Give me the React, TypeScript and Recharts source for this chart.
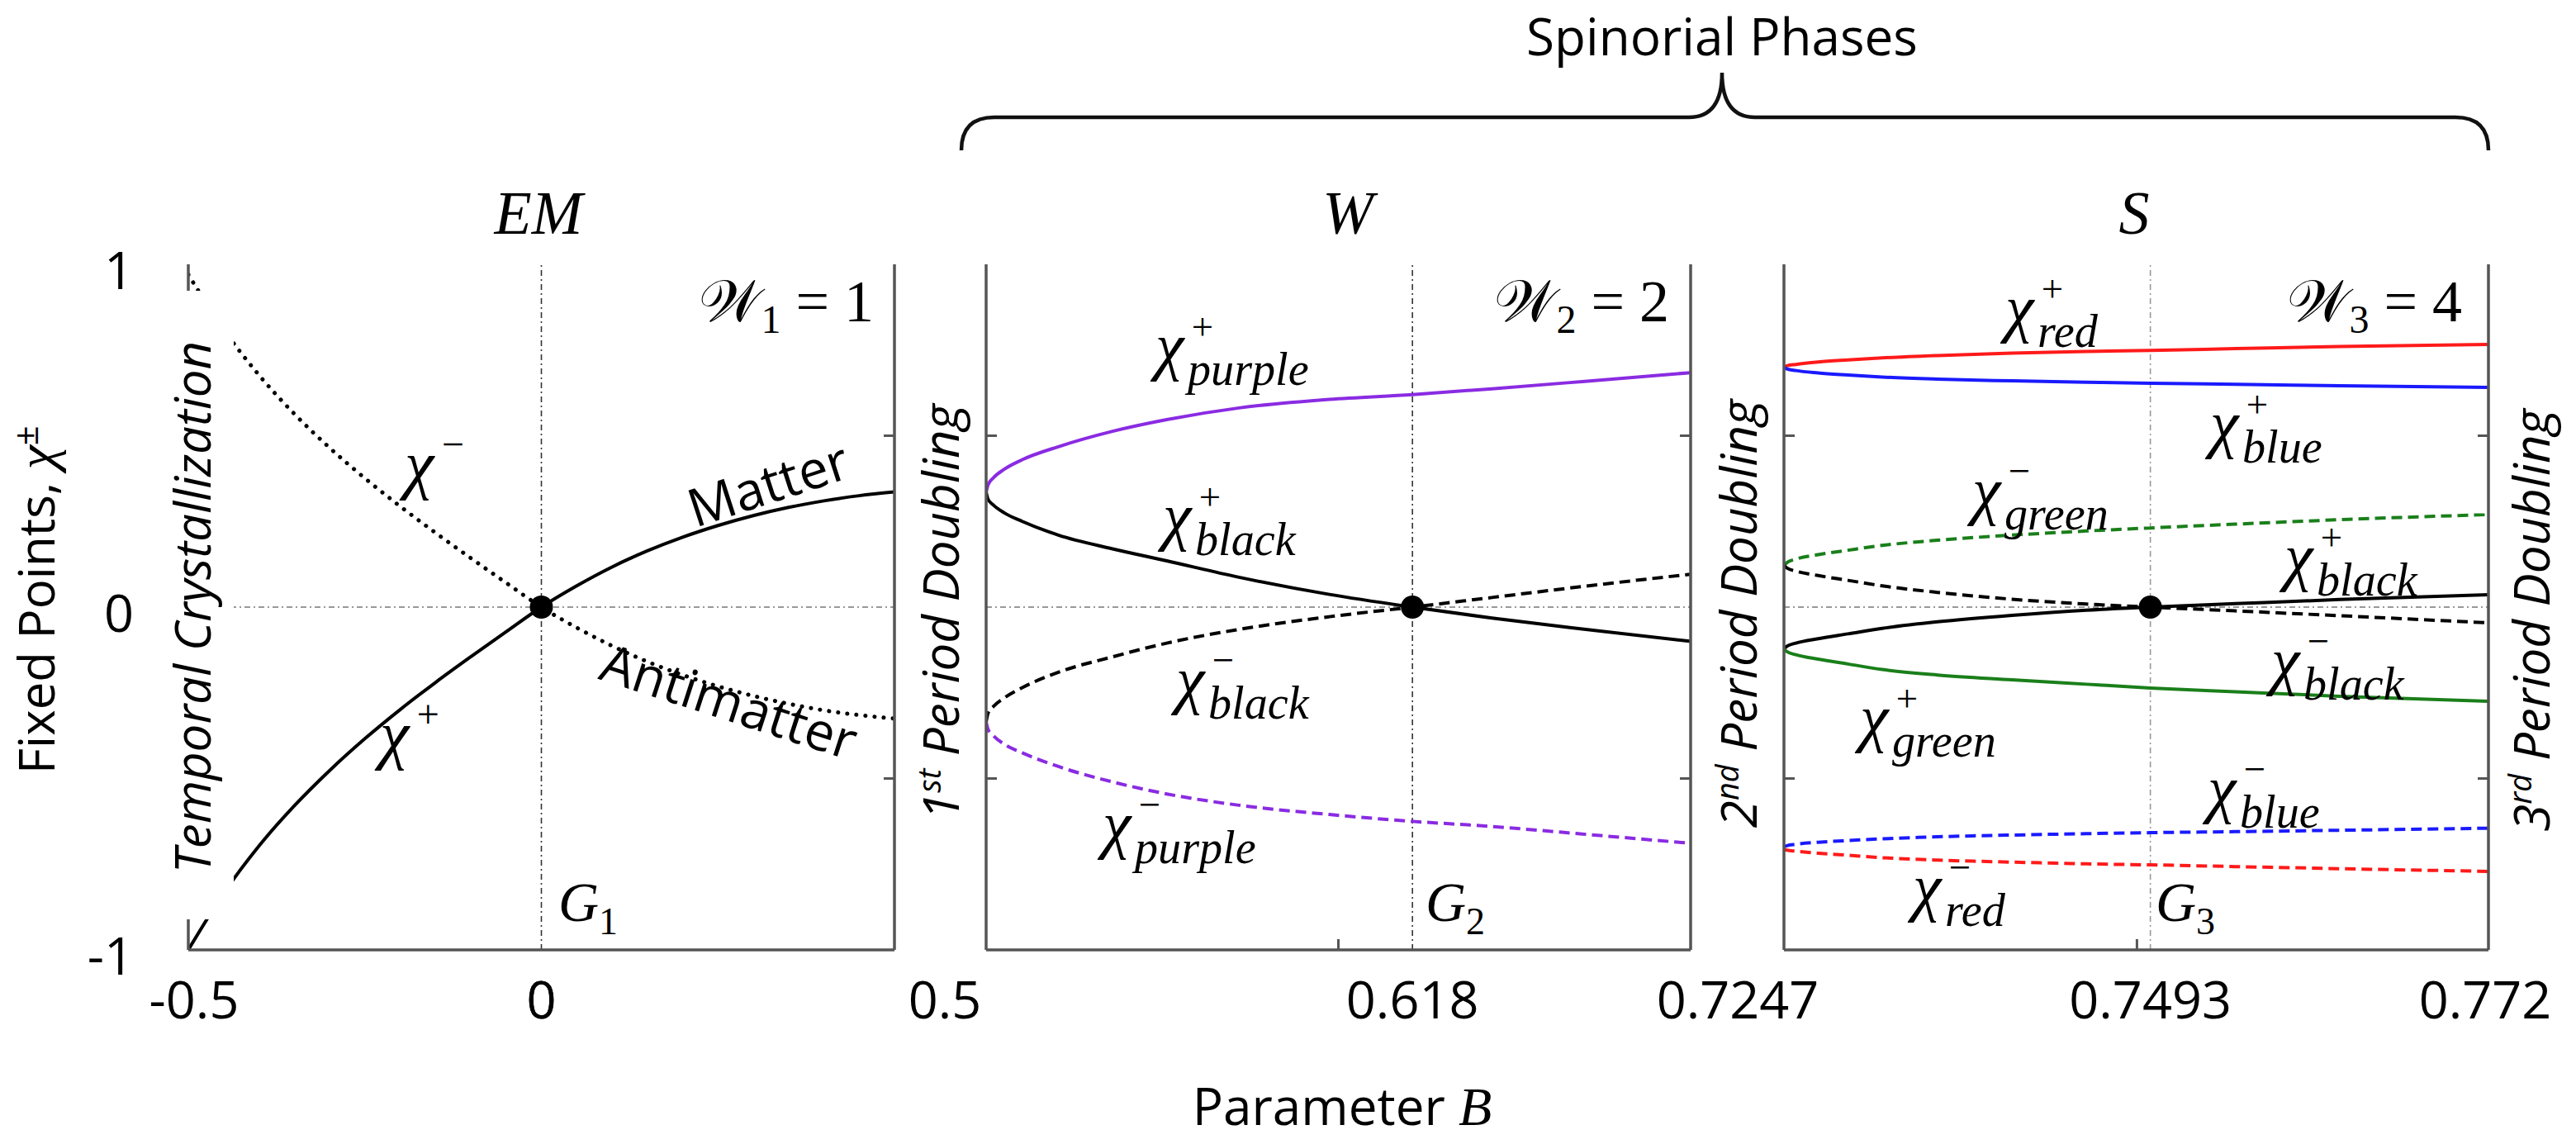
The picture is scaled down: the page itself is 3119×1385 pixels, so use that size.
import React from 'react';
import { LineChart, Line, XAxis, YAxis, ReferenceLine, ReferenceDot } from 'recharts';

const W = 3119;
const H = 1385;
const TOP = 320;
const BOTTOM = 1150;

const SANS = "'Open Sans', 'Noto Sans', sans-serif";
const MATH = "'Liberation Serif', 'DejaVu Serif', serif";
const FRAME = '#555';

// EM phase, B from -0.5 to 0.5
const emB = [-0.5, -0.45, -0.4, -0.35, -0.3, -0.25, -0.2, -0.15, -0.1, -0.05, 0, 0.05, 0.1, 0.15, 0.2, 0.25, 0.3, 0.35, 0.4, 0.45, 0.5];
const emChiPlus = [-1.0, -0.835, -0.697, -0.58, -0.477, -0.384, -0.299, -0.22, -0.145, -0.072, 0, 0.062, 0.117, 0.164, 0.204, 0.238, 0.267, 0.291, 0.31, 0.325, 0.336];
const emChiMinus = [0.97, 0.81, 0.677, 0.564, 0.465, 0.376, 0.294, 0.217, 0.143, 0.071, 0, -0.06, -0.113, -0.159, -0.198, -0.231, -0.259, -0.282, -0.301, -0.315, -0.325];

// W phase
const wB = [0.5, 0.5005, 0.502, 0.505, 0.51, 0.52, 0.535, 0.55, 0.57, 0.595, 0.618, 0.64, 0.665, 0.695];
const wPurplePlus = [0.335, 0.356, 0.377, 0.402, 0.43, 0.468, 0.513, 0.547, 0.581, 0.606, 0.62, 0.637, 0.658, 0.684];
const wBlackPlus = [0.335, 0.315, 0.298, 0.275, 0.25, 0.21, 0.17, 0.135, 0.087, 0.037, 0.0, -0.032, -0.064, -0.1];
const wBlackMinus = [-0.335, -0.31, -0.29, -0.265, -0.235, -0.19, -0.145, -0.105, -0.065, -0.028, 0.0, 0.028, 0.06, 0.096];
const wPurpleMinus = [-0.335, -0.356, -0.375, -0.4, -0.425, -0.465, -0.51, -0.545, -0.578, -0.605, -0.625, -0.64, -0.662, -0.689];

// S phase
const sB = [0.7247, 0.7249, 0.7255, 0.727, 0.729, 0.7313, 0.735, 0.74, 0.745, 0.7493, 0.755, 0.762, 0.772];
const sRedPlus = [0.7, 0.704, 0.708, 0.715, 0.721, 0.727, 0.734, 0.741, 0.746, 0.749, 0.754, 0.76, 0.766];
const sBluePlus = [0.7, 0.695, 0.69, 0.683, 0.677, 0.671, 0.665, 0.66, 0.656, 0.653, 0.65, 0.646, 0.641];
const sGreenMinus = [0.122, 0.13, 0.14, 0.153, 0.166, 0.18, 0.195, 0.21, 0.222, 0.231, 0.242, 0.255, 0.27];
const sBlackMinus = [0.122, 0.114, 0.105, 0.092, 0.078, 0.062, 0.043, 0.023, 0.009, 0, -0.011, -0.025, -0.046];
const sBlackPlus = [-0.122, -0.114, -0.105, -0.092, -0.078, -0.062, -0.043, -0.024, -0.009, 0, 0.01, 0.022, 0.036];
const sGreenPlus = [-0.122, -0.13, -0.139, -0.152, -0.166, -0.182, -0.198, -0.212, -0.225, -0.236, -0.247, -0.26, -0.275];
const sBlueMinus = [-0.699, -0.696, -0.692, -0.686, -0.681, -0.676, -0.67, -0.665, -0.661, -0.658, -0.655, -0.651, -0.645];
const sRedMinus = [-0.706, -0.709, -0.712, -0.718, -0.724, -0.731, -0.738, -0.744, -0.749, -0.752, -0.757, -0.763, -0.771];

// ticks
const yTicks = [-1, -0.5, 0, 0.5, 1];
const yTickLabels = ['-1', '', '0', '', '1'];
const emTicks = [-0.5, 0];
const emTickLabels = ['-0.5', '0'];
const wTicks = [0.5, 0.618];
const wTickLabels = ['0.5', '0.618'];
const sTicks = [0.7247, 0.7493, 0.772];
const sTickLabels = ['0.7247', '0.7493', '0.772'];

const zip = (b: number[], v: number[]) => b.map((x, i) => ({ b: x, v: v[i] }));

type Series = { key: string; data: { b: number; v: number }[]; color: string; kind: 'solid' | 'dashed' | 'dotted' };

type PanelCfg = {
  left: number;
  right: number;
  domain: [number, number];
  mid: number;
  g: number;
  gColor: string;
  ticks: number[];
  tickLabels: string[];
  labelShift: number[];
  yLabels: boolean;
  series: Series[];
};

const dashFor = (k: Series['kind']) => (k === 'dashed' ? '13 7' : k === 'dotted' ? '0.1 11' : undefined);

function Panel({ cfg }: { cfg: PanelCfg }) {
  const bottomTicks = [...cfg.ticks, cfg.mid].sort((a, b) => a - b);
  const BottomTick = (props: any) => {
    const v = props.payload.value;
    const i = cfg.ticks.indexOf(v);
    if (i < 0) {
      return <line x1={props.x} x2={props.x} y1={BOTTOM} y2={BOTTOM - 13} stroke={FRAME} strokeWidth={3} />;
    }
    return (
      <text x={props.x + cfg.labelShift[i]} y={1233} textAnchor="middle" fontFamily={SANS} fontSize={63} fill="#000">
        {cfg.tickLabels[i]}
      </text>
    );
  };
  const TopTick = (props: any) => (
    <line x1={props.x} x2={props.x} y1={TOP} y2={TOP + 13} stroke={FRAME} strokeWidth={3} />
  );
  const LeftTick = (props: any) => {
    const v = props.payload.value;
    const i = yTicks.indexOf(v);
    return (
      <g>
        {Math.abs(v) === 0.5 && <line x1={cfg.left} x2={cfg.left + 13} y1={props.y} y2={props.y} stroke={FRAME} strokeWidth={3} />}
        {cfg.yLabels && yTickLabels[i] && (
          <text x={162} y={props.y + 30} textAnchor="end" fontFamily={SANS} fontSize={63} fill="#000">
            {yTickLabels[i]}
          </text>
        )}
      </g>
    );
  };
  const RightTick = (props: any) => {
    const v = props.payload.value;
    return Math.abs(v) === 0.5 ? (
      <line x1={cfg.right} x2={cfg.right - 13} y1={props.y} y2={props.y} stroke={FRAME} strokeWidth={3} />
    ) : (
      <g />
    );
  };
  const axisLine = { stroke: FRAME, strokeWidth: 3.5 };
  return (
    <div style={{ position: 'absolute', left: 0, top: 0 }}>
      <LineChart width={W} height={H} margin={{ top: TOP, right: 0, bottom: 0, left: 0 }}>
        <XAxis xAxisId="b" dataKey="b" type="number" domain={cfg.domain} ticks={bottomTicks} interval={0}
          height={H - BOTTOM} axisLine={axisLine} tickLine={false} tick={BottomTick} allowDataOverflow />
        <XAxis xAxisId="t" orientation="top" dataKey="b" type="number" domain={cfg.domain} ticks={[cfg.mid]}
          interval={0} height={0} axisLine={axisLine} tickLine={false} tick={TopTick} allowDataOverflow />
        <YAxis yAxisId="l" type="number" domain={[-1, 1]} ticks={yTicks} interval={0} width={cfg.left}
          axisLine={axisLine} tickLine={false} tick={LeftTick} allowDataOverflow />
        <YAxis yAxisId="r" orientation="right" type="number" domain={[-1, 1]} ticks={yTicks} interval={0}
          width={W - cfg.right} axisLine={axisLine} tickLine={false} tick={RightTick} allowDataOverflow />
        <ReferenceLine xAxisId="b" yAxisId="l" y={0} stroke="#777" strokeWidth={1.5} strokeDasharray="7 4 2 4" />
        <ReferenceLine xAxisId="b" yAxisId="l" x={cfg.g} stroke={cfg.gColor} strokeWidth={1.6} strokeDasharray="7 4 2 4" />
        {cfg.series.map((s) => (
          <Line key={s.key} xAxisId="b" yAxisId="l" data={s.data} dataKey="v" type="monotone"
            stroke={s.color} strokeWidth={s.kind === 'dotted' ? 5 : 4} strokeDasharray={dashFor(s.kind)}
            strokeLinecap={s.kind === 'dotted' ? 'round' : 'butt'}
            dot={false} activeDot={false} isAnimationActive={false} />
        ))}
        <ReferenceDot xAxisId="b" yAxisId="l" x={cfg.g} y={0} r={14} fill="#000" stroke="none" />
      </LineChart>
    </div>
  );
}

const PURPLE = '#8a2be2';
const RED = '#ff1a1a';
const BLUE = '#1a1aff';
const GREEN = '#1a7f1a';

const panels: PanelCfg[] = [
  {
    left: 228, right: 1083, domain: [-0.5, 0.5], mid: 0, g: 0, gColor: '#333',
    ticks: emTicks, tickLabels: emTickLabels, labelShift: [7, 0], yLabels: true,
    series: [
      { key: 'emm', data: zip(emB, emChiMinus), color: '#000', kind: 'dotted' },
      { key: 'emp', data: zip(emB, emChiPlus), color: '#000', kind: 'solid' },
    ],
  },
  {
    left: 1194, right: 2047, domain: [0.5, 0.695], mid: 0.5975, g: 0.618, gColor: '#333',
    ticks: wTicks, tickLabels: wTickLabels, labelShift: [-50, 0], yLabels: false,
    series: [
      { key: 'pp', data: zip(wB, wPurplePlus), color: PURPLE, kind: 'solid' },
      { key: 'bp', data: zip(wB, wBlackPlus), color: '#000', kind: 'solid' },
      { key: 'bm', data: zip(wB, wBlackMinus), color: '#000', kind: 'dashed' },
      { key: 'pm', data: zip(wB, wPurpleMinus), color: PURPLE, kind: 'dashed' },
    ],
  },
  {
    left: 2160, right: 3013, domain: [0.7247, 0.772], mid: 0.7484, g: 0.7493, gColor: '#999',
    ticks: sTicks, tickLabels: sTickLabels, labelShift: [-56, 0, -4], yLabels: false,
    series: [
      { key: 'rp', data: zip(sB, sRedPlus), color: RED, kind: 'solid' },
      { key: 'blp', data: zip(sB, sBluePlus), color: BLUE, kind: 'solid' },
      { key: 'gm', data: zip(sB, sGreenMinus), color: GREEN, kind: 'dashed' },
      { key: 'km', data: zip(sB, sBlackMinus), color: '#000', kind: 'dashed' },
      { key: 'kp', data: zip(sB, sBlackPlus), color: '#000', kind: 'solid' },
      { key: 'gp', data: zip(sB, sGreenPlus), color: GREEN, kind: 'solid' },
      { key: 'blm', data: zip(sB, sBlueMinus), color: BLUE, kind: 'dashed' },
      { key: 'rm', data: zip(sB, sRedMinus), color: RED, kind: 'dashed' },
    ],
  },
];

// chi with stacked super/subscript, kept in one text element
function Chi({ x, y, sup, sub, size = 78 }: { x: number; y: number; sup: string; sub?: string; size?: number }) {
  return (
    <text x={x} y={y} fontFamily={MATH} fill="#000" fontSize={size}>
      <tspan fontStyle="italic">χ</tspan>
      <tspan x={x + size * 0.56} y={y - size * 0.44} fontSize={size * 0.6}>{sup}</tspan>
      {sub ? (
        <tspan x={x + size * 0.5} y={y + size * 0.27} fontSize={size * 0.72} fontStyle="italic">{sub}</tspan>
      ) : null}
    </text>
  );
}

function Winding({ right, y, n, w }: { right: number; y: number; n: string; w: string }) {
  return (
    <text x={right} y={y} textAnchor="end" fontFamily={MATH} fontSize={72} fill="#000">
      𝒲<tspan dy={14} fontSize={48}>{n}</tspan><tspan dy={-14}> = {w}</tspan>
    </text>
  );
}

function GLabel({ x, n }: { x: number; n: string }) {
  return (
    <text x={x} y={1115} fontFamily={MATH} fontStyle="italic" fontSize={68} fill="#000">
      G<tspan dy={16} fontSize={46} fontStyle="normal">{n}</tspan>
    </text>
  );
}

function SideLabel({ x, y, lead, sup, rest }: { x: number; y: number; lead: string; sup?: string; rest: string }) {
  return (
    <text x={x} y={y} transform={`rotate(-90, ${x}, ${y})`} textAnchor="middle" fontFamily={SANS}
      fontStyle="italic" fontSize={60} fill="#000">
      {lead}
      {sup ? <tspan dy={-22} fontSize={38}>{sup}</tspan> : null}
      <tspan dy={sup ? 22 : 0}>{rest}</tspan>
    </text>
  );
}

function Overlay() {
  return (
    <svg width={W} height={H} style={{ position: 'absolute', left: 0, top: 0, pointerEvents: 'none' }}>
      {/* header */}
      <text x={2085} y={67} textAnchor="middle" fontFamily={SANS} fontSize={62} fill="#000">Spinorial Phases</text>
      <path d="M1164,182 Q1164,142 1204,142 L2045,142 Q2085,142 2085,88 Q2085,142 2125,142 L2973,142 Q3013,142 3013,182"
        fill="none" stroke="#111" strokeWidth={4.5} />
      <text x={652} y={283} textAnchor="middle" fontFamily={MATH} fontStyle="italic" fontSize={74}>EM</text>
      <text x={1632} y={283} textAnchor="middle" fontFamily={MATH} fontStyle="italic" fontSize={74}>W</text>
      <text x={2584} y={283} textAnchor="middle" fontFamily={MATH} fontStyle="italic" fontSize={74}>S</text>

      {/* axis titles */}
      <text x={66} y={726} transform="rotate(-90, 66, 726)" textAnchor="middle" fontFamily={SANS} fontSize={60} fill="#000">
        Fixed Points, <tspan fontFamily={MATH} fontStyle="italic" fontSize={66}>χ</tspan>
        <tspan dy={-20} fontSize={42}>±</tspan>
      </text>
      <text x={1625} y={1362} textAnchor="middle" fontFamily={SANS} fontSize={62} fill="#000">
        Parameter <tspan fontFamily={MATH} fontStyle="italic" fontSize={66}>B</tspan>
      </text>

      {/* panel 1 */}
      <rect x={175} y={352} width={108} height={761} fill="#fff" />
      <SideLabel x={255} y={735} lead="" rest="Temporal Crystallization" />
      <Winding right={1058} y={389} n="1" w="1" />
      <Chi x={490} y={589} sup="−" size={80} />
      <Chi x={460} y={916} sup="+" size={80} />
      <text x={931} y={609} transform="rotate(-18, 931, 589)" textAnchor="middle" fontFamily={SANS} fontSize={64}>Matter</text>
      <text x={882} y={872} transform="rotate(18, 882, 852)" textAnchor="middle" fontFamily={SANS} fontSize={64}>Antimatter</text>
      <GLabel x={676} n="1" />

      {/* panel 2 */}
      <SideLabel x={1161} y={741} lead="1" sup="st" rest=" Period Doubling" />
      <Winding right={2021} y={389} n="2" w="2" />
      <Chi x={1399} y={445} sup="+" sub="purple" />
      <Chi x={1408} y={651} sup="+" sub="black" />
      <Chi x={1424} y={849} sup="−" sub="black" />
      <Chi x={1335} y={1024} sup="−" sub="purple" />
      <GLabel x={1726} n="2" />

      {/* panel 3 */}
      <SideLabel x={2127} y={743} lead="2" sup="nd" rest=" Period Doubling" />
      <SideLabel x={3087} y={751} lead="3" sup="rd" rest=" Period Doubling" />
      <Winding right={2981} y={389} n="3" w="4" />
      <Chi x={2428} y={399} sup="+" sub="red" />
      <Chi x={2676} y={539} sup="+" sub="blue" />
      <Chi x={2388} y={620} sup="−" sub="green" />
      <Chi x={2766} y={700} sup="+" sub="black" />
      <Chi x={2750} y={826} sup="−" sub="black" />
      <Chi x={2252} y={895} sup="+" sub="green" />
      <Chi x={2673} y={981} sup="−" sub="blue" />
      <Chi x={2316} y={1100} sup="−" sub="red" />
      <GLabel x={2610} n="3" />
    </svg>
  );
}

export default function App() {
  return (
    <div style={{ position: 'absolute', left: 0, top: 0, width: W, height: H, background: '#fff' }}>
      {panels.map((p, i) => (
        <Panel key={i} cfg={p} />
      ))}
      <Overlay />
    </div>
  );
}
